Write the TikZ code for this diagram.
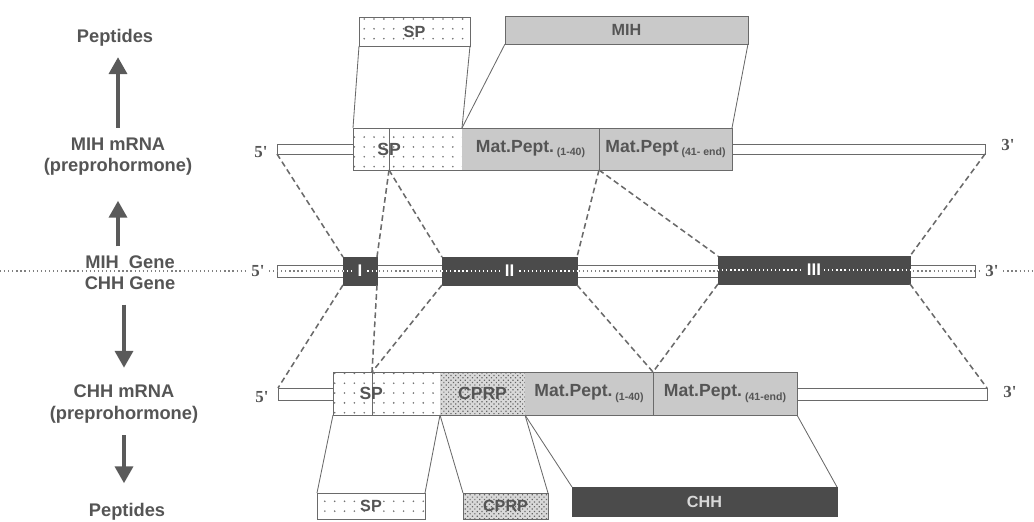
\documentclass[tikz,border=0pt]{standalone}
\usepackage{fontspec}
\setmainfont{Liberation Sans}
\newfontfamily\primefont{Liberation Serif}
\usetikzlibrary{positioning,fit,arrows.meta,patterns,patterns.meta}

\definecolor{txtgray}{HTML}{555555}
\definecolor{linegray}{HTML}{6A6A6A}
\definecolor{matgray}{HTML}{C9C9C9}
\definecolor{exdark}{HTML}{4B4B4B}
\definecolor{arrowgray}{HTML}{5A5A5A}
\newcommand{\pepsub}[1]{\,{\fontsize{7.5}{8}\selectfont\raisebox{-2.5pt}{#1}}}

\begin{document}
\begin{tikzpicture}[x=0.025cm, y=-0.025cm,
    font=\fontsize{13}{15}\selectfont\bfseries,
    txt/.style={text=txtgray, inner sep=0pt},
    boxtxt/.style={txt, font=\fontsize{12.5}{13}\selectfont\bfseries},
    peptxt/.style={txt, font=\fontsize{11.5}{12}\selectfont\bfseries},
    prime/.style={txt, font=\primefont\fontsize{12}{12}\selectfont\bfseries},
    piece/.style={inner sep=0pt, outer sep=0pt},
    outline/.style={piece, draw=linegray, line width=0.7pt},
    thinbar/.style={outline, fill=white},
    spfill/.style={piece, preaction={fill=white}, pattern={Dots[distance=7pt, radius=0.65pt]}, pattern color=black!55},
    cprpfill/.style={piece, preaction={fill=gray!30}, pattern={Dots[distance=2.4pt, radius=0.6pt, angle=45]}, pattern color=black!60},
    matfill/.style={piece, fill=matgray},
    exon/.style={piece, fill=exdark, draw=exdark},
    divider/.style={draw=linegray, line width=0.7pt},
    plink/.style={draw=linegray, line width=0.6pt},
    glink/.style={draw=linegray, line width=1.1pt, dash pattern=on 4pt off 2.5pt},
    flow/.style={draw=arrowgray, line width=2.4pt, -{Triangle[width=0.45cm, length=0.42cm]}}]
\useasboundingbox (0,0) rectangle (1034,521);

% left column
\node[txt] (peptop) at (115,38) {Peptides};
\node[txt, align=center] (mihrna) at (118,157) {MIH mRNA\\(preprohormone)};
\node[txt] (mihgene) at (130,262) {MIH\ \ Gene};
\node[txt] (chhgene) at (130,283) {CHH Gene};
\node[txt, align=center] (chhrna) at (124,404) {CHH mRNA\\(preprohormone)};
\node[txt] (pepbot) at (127,512) {Peptides};
\draw[flow, shorten <=0.25cm, shorten >=0.26cm] (mihrna.north) -- (mihrna.north |- peptop.south);
\draw[flow, shorten <=0.22cm, shorten >=0.62cm] (mihrna.south |- mihgene.north) -- (mihrna.south);
\draw[flow, shorten <=0.37cm, shorten >=0.43cm] (chhrna.north |- chhgene.south) -- (chhrna.north);
\draw[flow, shorten <=0.3cm, shorten >=0.5cm] (chhrna.south) -- (chhrna.south |- pepbot.north);

% MIH mRNA
\node[thinbar, fit={(277,144) (985,154)}] (mbar) {};
\node[spfill, fit={(353,128) (389,170)}] (msp1) {};
\node[spfill, fit={(389,128) (462,170)}] (msp2) {};
\node[matfill, fit={(462,128) (599,170)}] (mmp1) {};
\node[matfill, fit={(599,128) (732,170)}] (mmp2) {};
\node[outline, fit={(353,128) (732,170)}] (mbox) {};
\draw[divider] (msp1.north east) -- (msp1.south east);
\draw[divider] (mmp1.north east) -- (mmp1.south east);
\node[boxtxt] at (msp1.east) {SP};
\node[boxtxt] at (mmp1) {Mat.Pept.\pepsub{(1-40)}};
\node[boxtxt] at (mmp2) {Mat.Pept\pepsub{(41- end)}};
\node[prime] (m5) at (261,152) {5'};
\node[prime] (m3) at (1008,145) {3'};

% MIH peptides
\node[spfill, draw=linegray, line width=0.7pt, fit={(359,17) (470,46)}] (psp) {};
\node[matfill, draw=linegray, line width=0.7pt, fit={(505,16) (748,44)}] (pmih) {};
\node[peptxt] at (psp) {SP};
\node[peptxt] at (pmih) {MIH};
\foreach \a/\b in {psp.south west/mbox.north west, psp.south east/msp2.north east,
                   pmih.south west/msp2.north east, pmih.south east/mbox.north east}
    \draw[plink] (\a) -- (\b);

% gene
\draw[gray, line width=0.9pt, dotted] (0,271) -- (1034,271);
\node[thinbar, fit={(277,265) (975,277)}] (gbar) {};
\draw[gray, line width=0.9pt, dotted] (gbar.west) -- (gbar.east);
\node[exon, fit={(343,257) (377,285)}] (e1) {};
\node[exon, fit={(442,257) (577,285)}] (e2) {};
\node[exon, fit={(718,256) (910,284)}] (e3) {};
\foreach \e/\num in {e1/I, e2/II, e3/III} {
    \draw[white, line width=0.9pt, dotted] (\e.west) -- (\e.east);
    \node[piece, fill=exdark, text=white, inner xsep=2pt, font=\fontsize{12}{12}\selectfont\bfseries] at (\e) {\num};
}
\node[prime, fill=white, inner sep=1.5pt] (g5) at (258,271) {5'};
\node[prime, fill=white, inner sep=1.5pt] (g3) at (992,271) {3'};

% CHH mRNA
\node[thinbar, fit={(278,388) (987,400)}] (cbar) {};
\node[spfill, fit={(333,372) (372,415)}] (csp1) {};
\node[spfill, fit={(372,372) (440,415)}] (csp2) {};
\node[cprpfill, fit={(440,372) (525,415)}] (ccprp) {};
\node[matfill, fit={(525,372) (653,415)}] (cmp1) {};
\node[matfill, fit={(653,372) (797,415)}] (cmp2) {};
\node[outline, fit={(333,372) (797,415)}] (cbox) {};
\draw[divider] (csp1.north east) -- (csp1.south east);
\draw[divider] (cmp1.north east) -- (cmp1.south east);
\node[boxtxt, left=-8pt of csp1.east] {SP};
\node[boxtxt] at (ccprp) {CPRP};
\node[boxtxt] at (cmp1) {Mat.Pept.\pepsub{(1-40)}};
\node[boxtxt] at (cmp2) {Mat.Pept.\pepsub{(41-end)}};
\node[prime] (c5) at (262,397) {5'};
\node[prime] (c3) at (1010,392) {3'};

% CHH peptides
\node[spfill, draw=linegray, line width=0.7pt, fit={(317,493) (425,519)}] (bsp) {};
\node[cprpfill, draw=linegray, line width=0.7pt, fit={(463,493) (548,519)}] (bcprp) {};
\node[exon, fit={(572,487) (837,516)}] (bchh) {};
\node[peptxt] at (bsp) {SP};
\node[peptxt] at (bcprp) {CPRP};
\node[peptxt, text=white!85!black] at (bchh) {CHH};
\foreach \a/\b in {bsp.north west/cbox.south west, bsp.north east/csp2.south east,
                   bcprp.north west/csp2.south east, bcprp.north east/ccprp.south east,
                   bchh.north west/ccprp.south east, bchh.north east/cbox.south east}
    \draw[plink] (\a) -- (\b);

% exon mapping
\foreach \a/\b in {mbar.south west/e1.north west, msp1.south east/e1.north east,
                   msp1.south east/e2.north west, mmp1.south east/e2.north east,
                   mmp1.south east/e3.north west, mbar.south east/e3.north east,
                   e1.south west/cbar.north west, e1.south east/csp1.north east,
                   e2.south west/csp1.north east, e2.south east/cmp1.north east,
                   e3.south west/cmp1.north east, e3.south east/cbar.north east}
    \draw[glink] (\a) -- (\b);
\end{tikzpicture}
\end{document}
